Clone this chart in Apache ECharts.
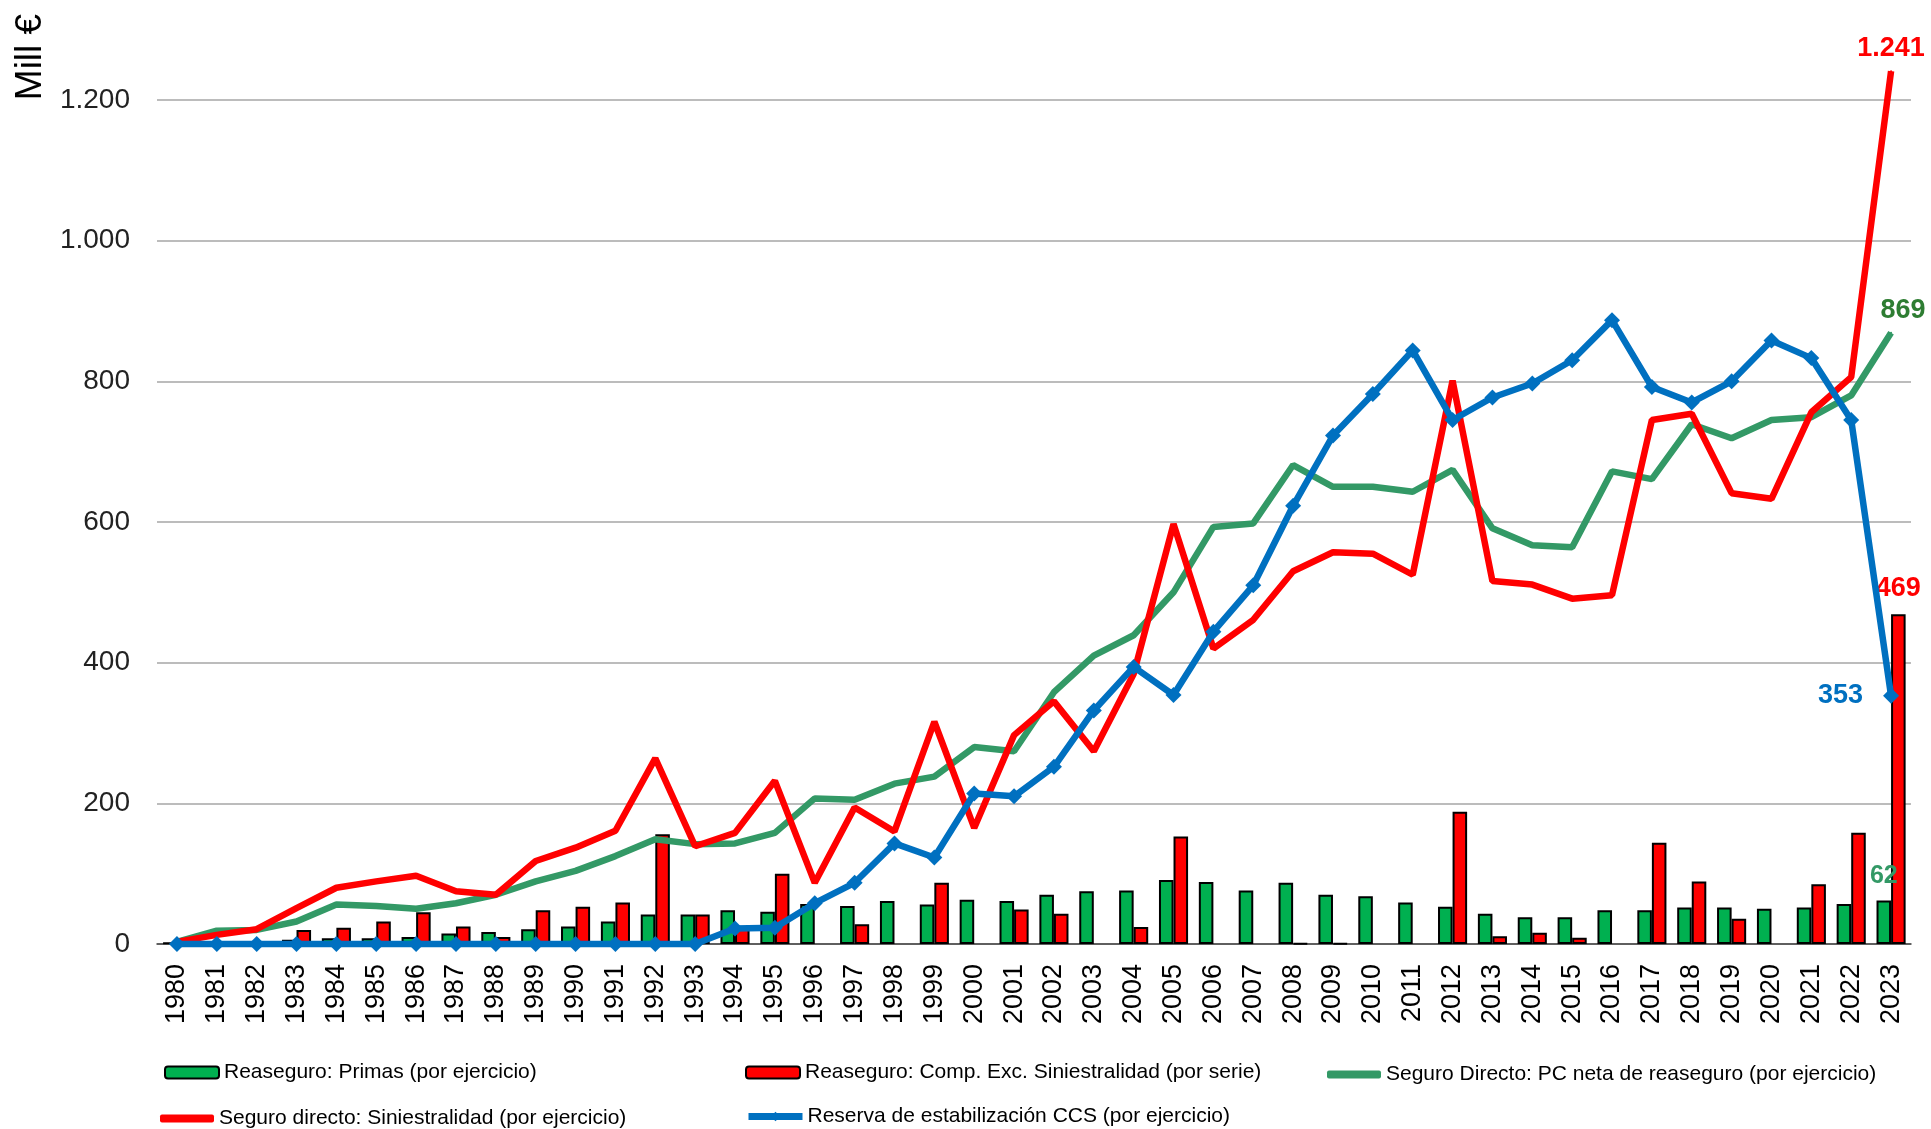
<!DOCTYPE html>
<html>
<head>
<meta charset="utf-8">
<title>CCS</title>
<script src="https://cdn.jsdelivr.net/npm/echarts@6/dist/echarts.min.js"></script>
<style>
  html, body { margin: 0; padding: 0; background: #fff; }
  #chart { width: 1931px; height: 1129px; }
</style>
</head>
<body>
<div id="chart"></div>
<script>
// años
var years = [];
for (var y = 1980; y <= 2023; y++) years.push(String(y));

// Reaseguro: Primas (por ejercicio)
var primas = [2, 3, 4, 6, 8, 8, 10, 15, 17, 21, 25, 32, 42, 42, 48, 46,
  57, 54, 61, 56, 63, 61, 70, 75, 76, 91, 88, 76, 87, 70, 68, 59, 53, 43,
  38, 38, 48, 48, 52, 52, 50, 52, 57, 62];

// Reaseguro: Comp. Exc. Siniestralidad (por serie)
var compExc = [null, null, null, 20, 23, 32, 45, 25, 10, 48, 53, 59, 156, 42, 22, 100,
  null, 28, null, 87, null, 49, 43, null, 24, 153, null, null, 1, 1, null, -2, 188, 11,
  16, 9, -2, 144, 89, 36, null, 85, 158, 469];

// Seguro Directo: PC neta de reaseguro (por ejercicio)
var pcNeta = [3, 19, 20, 32, 56, 54, 50, 58, 70, 89, 104, 125, 149, 142, 143, 158,
  207, 205, 228, 238, 280, 274, 358, 410, 439, 500, 593, 598, 681, 650, 650, 643, 674, 591,
  567, 564, 672, 661, 739, 719, 745, 749, 780, 869];

// Seguro directo: Siniestralidad (por ejercicio)
var siniestralidad = [3, 13, 21, 51, 80, 89, 97, 75, 70, 118, 137, 161, 264, 139, 158, 232,
  87, 194, 160, 316, 165, 297, 345, 274, 384, 597, 420, 461, 530, 557, 555, 525, 801, 516,
  511, 491, 496, 745, 754, 641, 633, 756, 806, 1241];

// Reserva de estabilización CCS (por ejercicio)
var reserva = [0, 0, 0, 0, 0, 0, 0, 0, 0, 0, 0, 0, 0, 0, 22, 23,
  58, 87, 143, 123, 214, 210, 252, 332, 394, 354, 444, 510, 623, 723, 782, 844, 745, 777,
  797, 830, 887, 792, 770, 800, 858, 833, 745, 353];

var yTicks = [0, 200, 400, 600, 800, 1000, 1200];

var nombres = [
  'Reaseguro: Primas (por ejercicio)',
  'Reaseguro: Comp. Exc. Siniestralidad (por serie)',
  'Seguro Directo: PC neta de reaseguro (por ejercicio)',
  'Seguro directo: Siniestralidad (por ejercicio)',
  'Reserva de estabilización CCS (por ejercicio)'
];

function miles(v) {
  return String(v).replace(/\B(?=(\d{3})+(?!\d))/g, '.');
}

// solo el ultimo punto lleva etiqueta
function ultimo(arr, label, extra) {
  return arr.map(function (v, i) {
    if (i === arr.length - 1) {
      var item = { value: v, label: label };
      for (var k in extra) item[k] = extra[k];
      return item;
    }
    return v;
  });
}

var chart = echarts.init(document.getElementById('chart'));

var legendText = { fontSize: 21, color: '#000', fontFamily: 'Liberation Sans, Arial, sans-serif' };
function leyenda(item, left, top, h) {
  return {
    data: [item], left: left, top: top, padding: 0,
    itemWidth: 54, itemHeight: h || 12, itemGap: 0,
    textStyle: legendText, selectedMode: false,
    lineStyle: { width: 7 }
  };
}

var option = {
  backgroundColor: '#fff',
  animation: false,
  textStyle: { fontFamily: 'Liberation Sans, Arial, sans-serif' },
  grid: { left: 157, right: 20, top: 100, bottom: 185, containLabel: false, outerBoundsMode: 'none' },
  graphic: [{
    type: 'text', x: 31, y: 57, rotation: Math.PI / 2,
    style: { text: 'Mill €', fontSize: 37, fill: '#000', align: 'center', verticalAlign: 'middle',
      fontFamily: 'Liberation Sans, Arial, sans-serif' }
  }],
  legend: [
    leyenda(nombres[0], 164, 1062),
    leyenda(nombres[1], 745, 1062),
    leyenda({ name: nombres[2], icon: 'roundRect' }, 1327, 1064, 8),
    leyenda({ name: nombres[3], icon: 'roundRect' }, 160, 1108, 8),
    leyenda(nombres[4], 745, 1106)
  ],
  xAxis: {
    type: 'category',
    data: years,
    boundaryGap: true,
    axisLine: { lineStyle: { color: '#404040', width: 1.5 } },
    axisTick: { show: false },
    axisLabel: { rotate: 90, fontSize: 27, color: '#000', margin: 20, interval: 0 }
  },
  yAxis: {
    type: 'value',
    min: yTicks[0],
    max: yTicks[yTicks.length - 1],
    interval: 200,
    axisLine: { show: false },
    axisTick: { show: false },
    axisLabel: { fontSize: 28, color: '#222', margin: 27, formatter: miles },
    splitLine: { lineStyle: { color: '#a6a6a6', width: 1.5 } }
  },
  series: [
    {
      name: nombres[0], type: 'bar', data: ultimo(primas, {
        show: true, position: 'top', distance: 12, fontSize: 25, fontWeight: 'bold', color: '#339966'
      }),
      barGap: '0%', barCategoryGap: '27%',
      itemStyle: { color: '#00b050', borderColor: '#000', borderWidth: 2 }
    },
    {
      name: nombres[1], type: 'bar', data: ultimo(compExc, {
        show: true, position: 'top', distance: 12, fontSize: 27, fontWeight: 'bold', color: '#ff0000'
      }),
      barGap: '0%', barCategoryGap: '27%',
      itemStyle: { color: '#ff0000', borderColor: '#000', borderWidth: 2 }
    },
    {
      name: nombres[2], type: 'line', data: ultimo(pcNeta, {
        show: true, position: 'top', distance: 8, offset: [12, 0], fontSize: 27, fontWeight: 'bold', color: '#2e7d32'
      }, { symbol: 'circle', symbolSize: 2 }),
      symbol: 'none', showSymbol: true, clip: false, z: 3,
      lineStyle: { color: '#339966', width: 6.5 },
      itemStyle: { color: '#339966' }
    },
    {
      name: nombres[3], type: 'line', data: ultimo(siniestralidad, {
        show: true, position: 'top', distance: 8, fontSize: 27, fontWeight: 'bold', color: '#ff0000',
        formatter: function (p) { return miles(p.value); }
      }, { symbol: 'circle', symbolSize: 2 }),
      symbol: 'none', showSymbol: true, clip: false, z: 4,
      lineStyle: { color: '#ff0000', width: 6.5 },
      itemStyle: { color: '#ff0000' }
    },
    {
      name: nombres[4], type: 'line', data: ultimo(reserva, {
        show: true, position: 'left', distance: 20, fontSize: 27, fontWeight: 'bold', color: '#0070c0'
      }),
      symbol: 'diamond', symbolSize: 16, showAllSymbol: true, clip: false, z: 5,
      lineStyle: { color: '#0070c0', width: 6.5 },
      itemStyle: { color: '#0070c0' }
    }
  ]
};

chart.setOption(option);
</script>
</body>
</html>
